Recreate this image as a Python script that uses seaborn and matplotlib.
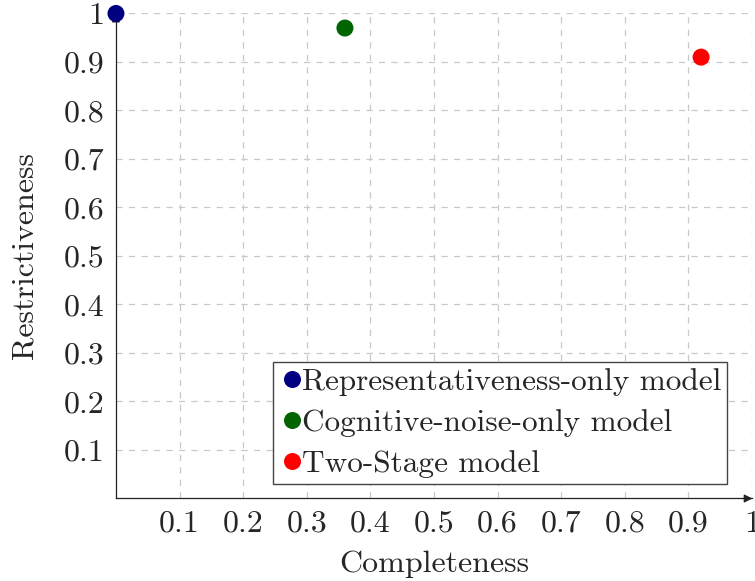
import matplotlib
matplotlib.use("Agg")
import matplotlib.pyplot as plt
import seaborn as sns
import pandas as pd

models = ["Representativeness-only model", "Cognitive-noise-only model", "Two-Stage model"]
completeness = [0.0, 0.36, 0.92]
restrictiveness = [1.0, 0.97, 0.91]
colors = ["#000080", "#006400", "#ff0000"]
ticks = [0.1, 0.2, 0.3, 0.4, 0.5, 0.6, 0.7, 0.8, 0.9, 1]
tick_labels = ["0.1", "0.2", "0.3", "0.4", "0.5", "0.6", "0.7", "0.8", "0.9", "1"]

sns.set_style("white")
plt.rcParams["font.family"] = ["cmr10", "DejaVu Serif"]
plt.rcParams["axes.formatter.use_mathtext"] = True

df = pd.DataFrame({"model": models, "x": completeness, "y": restrictiveness})

fig = plt.figure(figsize=(7.55, 5.81), dpi=100)
ax = fig.add_axes([0.1536, 0.142, 0.8424, 0.8348])

sns.scatterplot(data=df, x="x", y="y", hue="model", palette=colors, s=150,
                edgecolor="none", ax=ax, clip_on=False, zorder=5)

ax.set_xlim(0, 1)
ax.set_ylim(0, 1)
ax.set_xticks(ticks)
ax.set_xticklabels(tick_labels)
ax.set_yticks(ticks)
ax.set_yticklabels(tick_labels)
ax.tick_params(axis="both", direction="inout", length=7, width=0.6, color="#333333",
               labelsize=23, pad=5)
ax.grid(True, linestyle=(0, (5, 5)), color="#c8c8c8", linewidth=0.9)
ax.set_axisbelow(True)

for side in ["top", "right"]:
    ax.spines[side].set_visible(False)
for side in ["left", "bottom"]:
    ax.spines[side].set_color("#222222")
    ax.spines[side].set_linewidth(0.9)

ax.annotate("", xy=(1.005, 0), xytext=(0.98, 0), xycoords="axes fraction",
            arrowprops=dict(arrowstyle="-|>", color="#222222", lw=0.9,
                            mutation_scale=12), annotation_clip=False)
ax.annotate("", xy=(0, 1.005), xytext=(0, 0.98), xycoords="axes fraction",
            arrowprops=dict(arrowstyle="-|>", color="#222222", lw=0.9,
                            mutation_scale=12), annotation_clip=False, zorder=1)

ax.set_xlabel("Completeness", fontsize=23, labelpad=9)
ax.set_ylabel("Restrictiveness", fontsize=23, labelpad=18)

leg = ax.legend(loc="lower right", bbox_to_anchor=(0.961, 0.029), fontsize=22.5,
                frameon=True, fancybox=False, handletextpad=-0.1, borderpad=0.2,
                labelspacing=0.42, handlelength=0.8, borderaxespad=0.0,
                markerscale=1.0)
leg.get_frame().set_edgecolor("#444444")
leg.get_frame().set_linewidth(1.0)
leg.get_frame().set_alpha(1)

fig.savefig("out.png", dpi=100)
